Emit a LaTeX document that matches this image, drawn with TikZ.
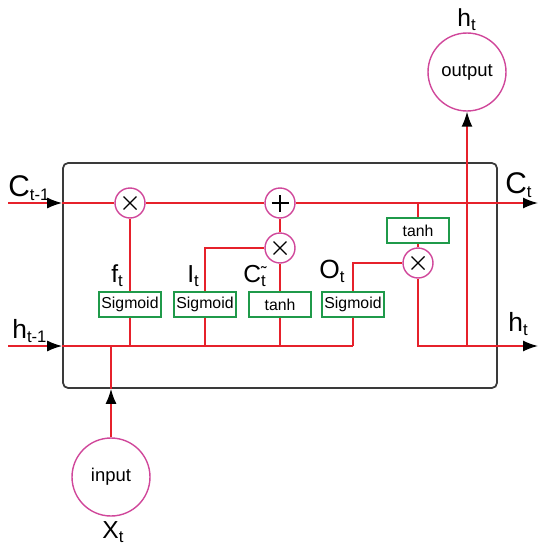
\documentclass[tikz,border=0pt]{standalone}
\usepackage{fontspec}
\setmainfont{Liberation Sans}
\usetikzlibrary{arrows.meta}
\definecolor{wirered}{HTML}{E6212B}
\definecolor{gatepink}{HTML}{D0479A}
\definecolor{layergreen}{HTML}{1F9A4A}
\definecolor{cellgray}{HTML}{3A3A3A}
% label with subscript: \sub[size]{main}{index}
\newcommand{\sub}[3][14]{{\fontsize{#1}{#1}\selectfont #2}\raisebox{-0.08cm}{\fontsize{9.5}{9.5}\selectfont #3}}
\tikzset{
	wire/.style={draw=wirered, line width=0.85pt},
	tip/.style={-{Latex[black, length=0.3cm, width=0.22cm]}},
	gate/.style={circle, draw=gatepink, line width=0.8pt, minimum size=0.6cm, inner sep=0pt},
	mult/.style={gate, path picture={\draw[black, line width=0.7pt, shift={(path picture bounding box.center)}] (-0.13cm,-0.13cm) -- (0.13cm,0.13cm) (-0.13cm,0.13cm) -- (0.13cm,-0.13cm);}},
	addop/.style={gate, path picture={\draw[black, line width=0.7pt, shift={(path picture bounding box.center)}] (-0.17cm,0) -- (0.17cm,0) (0,-0.17cm) -- (0,0.17cm);}},
	layer/.style={rectangle, draw=layergreen, line width=1pt, minimum width=1.24cm, minimum height=0.5cm, inner sep=0pt, font=\fontsize{9}{9}\selectfont},
	io/.style={circle, draw=gatepink, line width=0.8pt, minimum size=1.56cm, inner sep=0pt, font=\fontsize{10.5}{10.5}\selectfont},
	lbl/.style={anchor=base west, inner sep=0pt},
}
\begin{document}
\begin{tikzpicture}[x=0.02cm, y=-0.02cm]
	\useasboundingbox (0,0) rectangle (550,551);
	% Cell and operations:
	\node[draw=cellgray, line width=1pt, rounded corners=0.1cm, minimum width=8.68cm, minimum height=4.5cm](cell) at (280, 275.5){};
	\node[mult](fgate) at (130, 203){};
	\node[addop](addgate) at (280, 203){};
	\node[mult](igate) at (280, 248){};
	\node[mult](ogate) at (418, 263){};
	\node[layer](fsig) at (130, 304.5){Sigmoid};
	\node[layer](isig) at (205, 304.5){Sigmoid};
	\node[layer](csig) at (280, 304.5){tanh};
	\node[layer](osig) at (353, 304.5){Sigmoid};
	\node[layer](tanhc) at (418, 230.5){tanh};
	\node[io](input) at (111, 477){input};
	\node[io](output) at (467, 72){output};
	\coordinate (cin) at (8, 203);
	\coordinate (cout) at (538, 203);
	\coordinate (hin) at (8, 346);
	\coordinate (hout) at (538, 346);
	% Wires:
	\draw[wire, tip] (cin) -- (cin -| cell.west);
	\draw[wire] (cin -| cell.west) -- (fgate);
	\draw[wire] (fgate) -- (addgate);
	\draw[wire, tip] (addgate) -- (cout);
	\draw[wire, tip] (hin) -- (hin -| cell.west);
	\draw[wire] (hin -| cell.west) -- (hin -| osig);
	\draw[wire] (fsig) -- (fgate);
	\draw[wire] (fsig) -- (fsig |- hin);
	\draw[wire] (isig) |- (igate);
	\draw[wire] (isig) -- (isig |- hin);
	\draw[wire] (csig) -- (igate);
	\draw[wire] (csig) -- (csig |- hin);
	\draw[wire] (igate) -- (addgate);
	\draw[wire] (osig) |- (ogate);
	\draw[wire] (osig) -- (osig |- hin);
	\draw[wire] (ogate) -- (tanhc);
	\draw[wire] (tanhc) -- (tanhc |- cin);
	\draw[wire, tip] (ogate) |- (hout);
	\draw[wire, tip] (output |- hout) -- (output);
	\draw[wire, tip] (input) -- (input |- cell.south);
	\draw[wire] (input |- cell.south) -- (input |- hin);
	% Labels:
	\node[lbl](lcin) at (8, 196){\sub[17]{C}{t-1}};
	\node[lbl](lhin) at (12, 338){\sub[15]{h}{t-1}};
	\node[lbl](lcout) at (505, 193){\sub[17]{C}{t}};
	\node[lbl](lhout) at (508, 331){\sub[15]{h}{t}};
	\node[lbl](lf) at (111, 282){\sub{f}{t}};
	\node[lbl](li) at (187, 282){\sub{I}{t}};
	\node[lbl](lc) at (243, 282){{\fontsize{14}{14}\selectfont C}\rlap{\raisebox{0.08cm}{\fontsize{9.5}{9.5}\selectfont\char"02DC}}\raisebox{-0.08cm}{\fontsize{9.5}{9.5}\selectfont t}};
	\node[lbl](lo) at (319, 278){\sub[15]{O}{t}};
	\node[lbl](lhtop) at (457, 27){\sub{h}{t}};
	\node[lbl](lx) at (102, 538){\sub{X}{t}};
\end{tikzpicture}
\end{document}
